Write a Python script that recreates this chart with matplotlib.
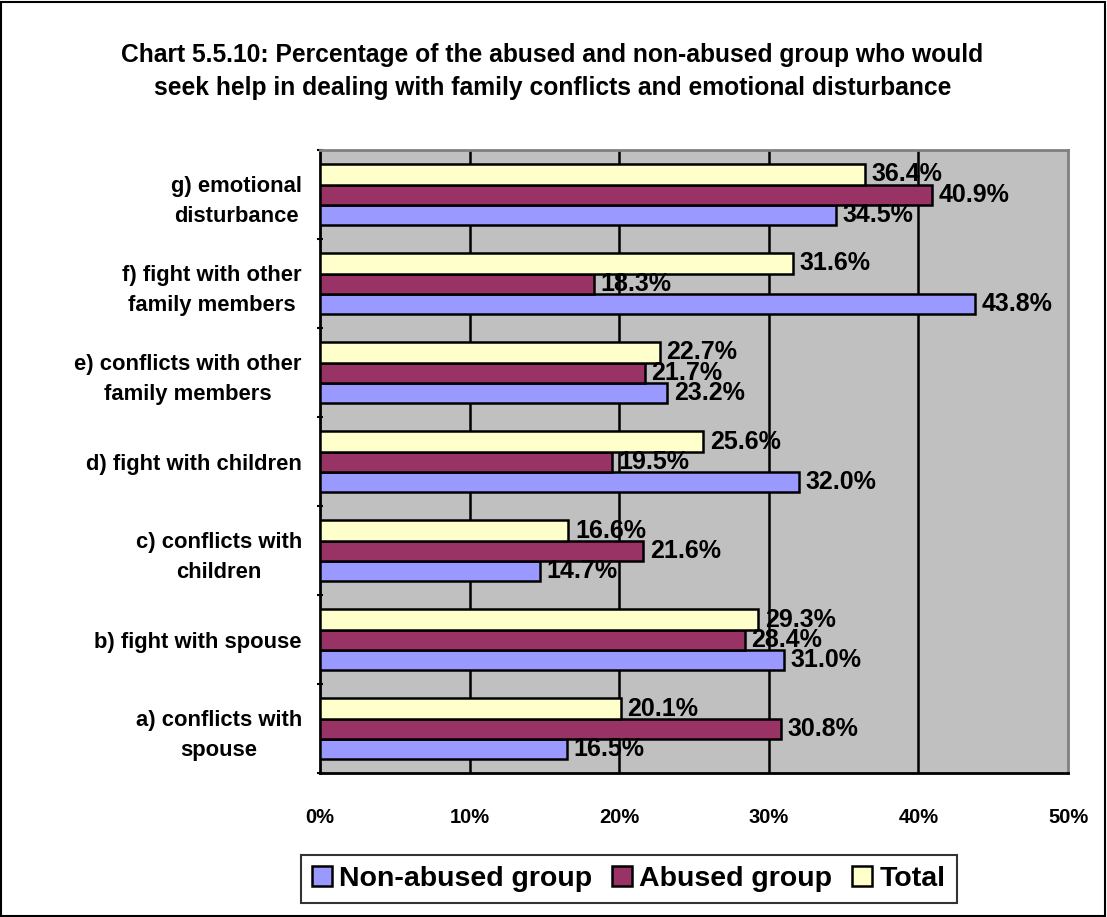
import numpy as np
import matplotlib.pyplot as plt
from matplotlib.patches import Rectangle

plt.rcParams['font.family'] = ['Liberation Sans', 'DejaVu Sans']
plt.rcParams['font.weight'] = 'bold'

categories = [
    "a) conflicts with\nspouse",
    "b) fight with spouse",
    "c) conflicts with\nchildren",
    "d) fight with children",
    "e) conflicts with other\nfamily members",
    "f) fight with other\nfamily members",
    "g) emotional\ndisturbance",
]
non_abused = [16.5, 31.0, 14.7, 32.0, 23.2, 43.8, 34.5]
abused = [30.8, 28.4, 21.6, 19.5, 21.7, 18.3, 40.9]
total = [20.1, 29.3, 16.6, 25.6, 22.7, 31.6, 36.4]
series_names = ["Non-abused group", "Abused group", "Total"]
colors = ["#9999FF", "#993366", "#FFFFCC"]
x_ticks = [0, 10, 20, 30, 40, 50]

fig = plt.figure(figsize=(11.07, 9.17), dpi=100)
ax = fig.add_axes([0.289, 0.157, 0.6758, 0.6794])
ax.set_facecolor("#C0C0C0")

y = np.arange(len(categories))
h = 0.225
offsets = [-h, 0, h]
for vals, off, col, name in zip([non_abused, abused, total], offsets, colors, series_names):
    ax.barh(y + off, vals, height=h, color=col, edgecolor="black", linewidth=1.8,
            label=name, zorder=3)
    for v, yy in zip(vals, y + off):
        ax.text(v + 0.45, yy, f"{v:.1f}%", va="center", ha="left", fontsize=18,
                fontweight="bold", zorder=4)

ax.set_xlim(0, 50)
ax.set_ylim(-0.5, len(categories) - 0.5)
ax.set_xticks(x_ticks)
ax.set_xticklabels([f"{t}%" for t in x_ticks], fontsize=14.5, fontweight="bold")
ax.tick_params(axis="x", length=0, pad=25)
ax.set_yticks(y)
ax.set_yticklabels(categories, fontsize=15.8, fontweight="bold", ha="right")
for lbl in ax.get_yticklabels():
    lbl.set_multialignment("center")
    lbl.set_linespacing(1.55)
ax.tick_params(axis="y", length=0, pad=13)
ax.set_yticks(np.arange(-0.5, len(categories)), minor=True)
ax.tick_params(axis="y", which="minor", length=5, width=1.5, direction="inout")
for xv in x_ticks[1:-1]:
    ax.axvline(xv, color="black", linewidth=1.8, zorder=1)

for side in ["left", "bottom"]:
    ax.spines[side].set_color("black")
    ax.spines[side].set_linewidth(2)
for side in ["top", "right"]:
    ax.spines[side].set_color("#808080")
    ax.spines[side].set_linewidth(2)

fig.text(0.499, 0.922,
         "Chart 5.5.10: Percentage of the abused and non-abused group who would\n"
         "seek help in dealing with family conflicts and emotional disturbance",
         ha="center", va="center", fontsize=17.7, fontweight="bold", linespacing=1.45)

leg = fig.legend(loc="center", bbox_to_anchor=(0.568, 0.0414), ncol=3, frameon=True,
                 fancybox=False, edgecolor="black", handlelength=0.7,
                 handleheight=0.7, handletextpad=0.25, columnspacing=0.7,
                 borderpad=0.4, prop={"weight": "bold", "size": 20.5})
leg.get_frame().set_linewidth(1.5)

fig.patches.append(Rectangle((0.001, 0.001), 0.997, 0.997, transform=fig.transFigure,
                             fill=False, edgecolor="black", linewidth=1.5))

fig.savefig("out.png", dpi=100)
